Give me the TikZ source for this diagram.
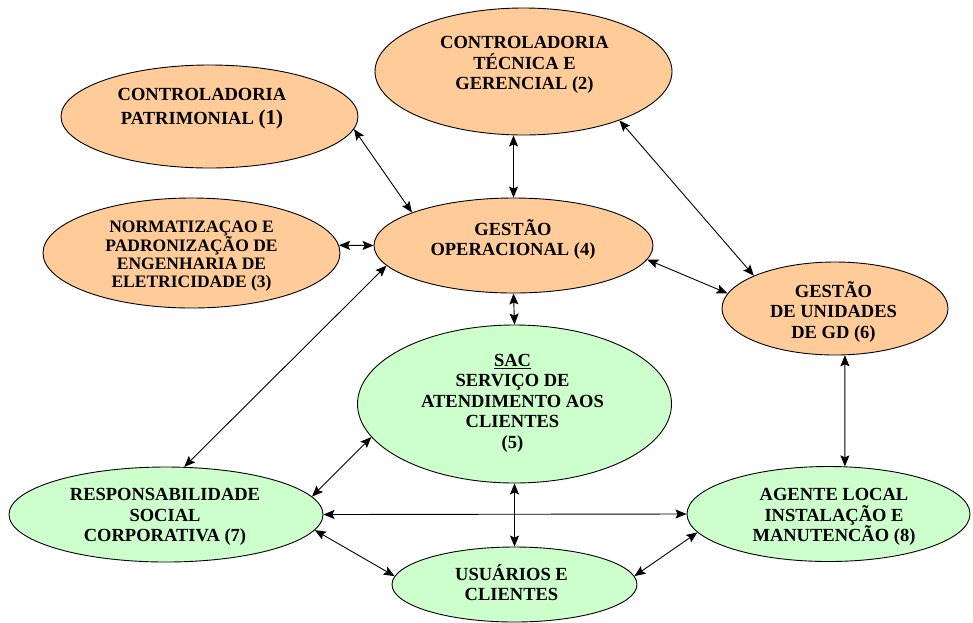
\documentclass[tikz,border=0pt]{standalone}
\usepackage{fontspec}
\setmainfont{Liberation Serif}
\usetikzlibrary{shapes.geometric,arrows.meta}
\definecolor{orangefill}{HTML}{FFCC99}
\definecolor{greenfill}{HTML}{CCFFCC}
\tikzset{
  oval/.style={ellipse, draw=black, line width=0.9pt, inner sep=0pt},
  orangeoval/.style={oval, fill=orangefill},
  greenoval/.style={oval, fill=greenfill},
  txt/.style={align=center, inner sep=0pt, font=\bfseries\fontsize{18.5}{20.5}\selectfont},
  link/.style={line width=0.9pt, {Stealth[length=11pt,width=9pt,inset=2pt]}-{Stealth[length=11pt,width=9pt,inset=2pt]}}
}
\begin{document}
\begin{tikzpicture}[x=1pt,y=-1pt]
\useasboundingbox (0,0) rectangle (973,622);
% ellipses
\node[orangeoval, minimum width=297pt, minimum height=103pt] (e1) at (209.5,116.5) {};
\node[orangeoval, minimum width=297pt, minimum height=127pt] (e2) at (523.5,71.5) {};
\node[orangeoval, minimum width=297pt, minimum height=110pt] (e3) at (191.5,253) {};
\node[orangeoval, minimum width=279pt, minimum height=95pt] (e4) at (513.5,245.5) {};
\node[greenoval, minimum width=314pt, minimum height=158pt] (e5) at (514.5,404) {};
\node[orangeoval, minimum width=226pt, minimum height=93pt] (e6) at (835,308.5) {};
\node[greenoval, minimum width=314pt, minimum height=95pt] (e7) at (166,514.5) {};
\node[greenoval, minimum width=283pt, minimum height=95pt] (e8) at (828.5,514) {};
\node[greenoval, minimum width=245pt, minimum height=75pt] (e9) at (514.5,584.5) {};
% texts
\node[txt, font=\bfseries\fontsize{18.5}{24}\selectfont] (t1) at (202,109) {CONTROLADORIA\\PATRIMONIAL {\fontsize{21}{24}\selectfont(1)}};
\node[txt] (t2) at (524.5,65) {CONTROLADORIA\\TÉCNICA E\\GERENCIAL (2)};
\node[txt, font=\bfseries\fontsize{17.5}{18}\selectfont] (t3) at (191.5,256) {NORMATIZAÇAO E\\PADRONIZAÇÃO DE\\ENGENHARIA DE\\ELETRICIDADE (3)};
\node[txt] (t4) at (513,239.5) {GESTÃO\\OPERACIONAL (4)};
\node[txt] (t5) at (512.5,403) {\underline{SAC}\\SERVIÇO DE\\ATENDIMENTO AOS\\CLIENTES\\(5)};
\node[txt] (t6) at (833.5,312) {GESTÃO\\DE UNIDADES\\DE GD (6)};
\node[txt] (t7) at (165,517) {RESPONSABILIDADE\\SOCIAL\\CORPORATIVA (7)};
\node[txt] (t8) at (834,517) {AGENTE LOCAL\\INSTALAÇÃO E\\MANUTENCÃO (8)};
\node[txt] (t9) at (511.5,582.5) {USUÁRIOS E\\CLIENTES};
% connectors
\draw[link] (e1.-5) -- (e4.162);
\draw[link] (e4.north |- e2.south) -- (e4.north);
\draw[link] (e2.-27) -- (e6.158);
\draw[link] (e3.3) -- (e4.west);
\draw[link] (e4.-6) -- (e6.172);
\draw[link] (e4.south) -- (e5.north);
\draw[link] (e4.189) -- (e7.69);
\draw[link] (e6.-78) -- (e8.71);
\draw[link] (e5.193) -- (e7.7);
\draw[link] (e5.south) -- (e9.north);
\draw[link] (e7.east) -- (e8.west);
\draw[link] (e7.-6) -- (e9.176);
\draw[link] (e9.4) -- (e8.188);
\end{tikzpicture}
\end{document}
